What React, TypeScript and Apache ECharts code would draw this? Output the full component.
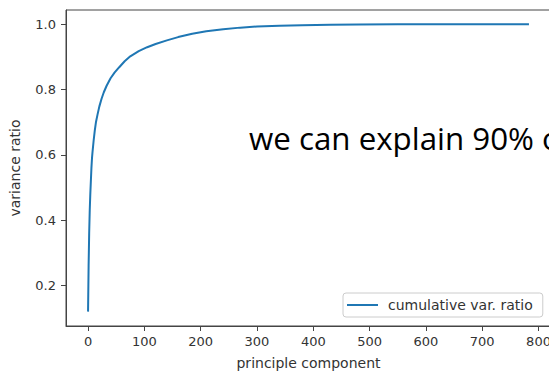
import React, { useEffect, useRef } from "react";
import * as echarts from "echarts";

// cumulative explained variance per principal component
const components = [0, 1, 2, 3, 4, 5, 6, 7, 8, 10, 12, 14, 17, 20, 24, 28, 33, 40, 47, 55, 65, 75, 90, 105, 120, 140, 160, 185, 210, 240, 270, 300, 340, 380, 430, 480, 550, 650, 783];
const cumulativeRatio = [0.12, 0.26, 0.36, 0.43, 0.48, 0.52, 0.56, 0.59, 0.61, 0.645, 0.675, 0.7, 0.725, 0.748, 0.772, 0.792, 0.812, 0.835, 0.852, 0.868, 0.887, 0.902, 0.918, 0.93, 0.94, 0.951, 0.961, 0.971, 0.979, 0.985, 0.99, 0.9935, 0.9958, 0.9975, 0.9988, 0.9996, 1.0, 1.0, 1.0];

const xTicks = [0, 100, 200, 300, 400, 500, 600, 700, 800];
const yTicks = [0.2, 0.4, 0.6, 0.8, 1.0];

const seriesName = "cumulative var. ratio";
const note = "we can explain 90% of";

export default function App() {
  const ref = useRef<HTMLDivElement>(null);

  useEffect(() => {
    if (!ref.current) return;
    const chart = echarts.init(ref.current, null, { renderer: "svg" });
    const font = "DejaVu Sans";
    const axisColor = "#333";
    const spineColor = "#444";

    // 5% padding on both ends of each axis
    const xMin = components[0];
    const xMax = components[components.length - 1];
    const xPad = (xMax - xMin) * 0.05;
    const yMin = Math.min(...cumulativeRatio);
    const yMax = Math.max(...cumulativeRatio);
    const yPad = (yMax - yMin) * 0.05;

    chart.setOption({
      animation: false,
      backgroundColor: "#fff",
      grid: {
        left: 66,
        top: 10,
        width: 485,
        bottom: 45,
        outerBoundsMode: "none",
        containLabel: false,
        show: true,
        borderColor: spineColor,
        borderWidth: 1,
        backgroundColor: "transparent",
      },
      xAxis: {
        type: "value",
        min: xMin - xPad,
        max: xMax + xPad,
        name: "principle component",
        nameLocation: "middle",
        nameGap: 30,
        nameTextStyle: { fontFamily: font, fontSize: 14, color: axisColor },
        splitLine: { show: false },
        axisLine: { show: true, onZero: false, lineStyle: { color: spineColor, width: 1 } },
        axisTick: { show: true, length: 5, customValues: xTicks, lineStyle: { color: spineColor } },
        axisLabel: {
          customValues: xTicks,
          margin: 9,
          fontFamily: font,
          fontSize: 13,
          color: axisColor,
        },
      },
      yAxis: {
        type: "value",
        min: yMin - yPad,
        max: yMax + yPad,
        name: "variance ratio",
        nameLocation: "middle",
        nameGap: 44,
        nameRotate: 90,
        nameTextStyle: { fontFamily: font, fontSize: 14, color: axisColor },
        splitLine: { show: false },
        axisLine: { show: true, onZero: false, lineStyle: { color: spineColor, width: 1 } },
        axisTick: { show: true, length: 5, customValues: yTicks, lineStyle: { color: spineColor } },
        axisLabel: {
          customValues: yTicks,
          margin: 10,
          fontFamily: font,
          fontSize: 13,
          color: axisColor,
          formatter: (v: number) => v.toFixed(1),
        },
      },
      legend: {
        show: true,
        left: 343,
        top: 293,
        orient: "horizontal",
        padding: [5, 10, 5, 4],
        borderColor: "#ccc",
        borderWidth: 1,
        borderRadius: 3,
        backgroundColor: "rgba(255,255,255,0.8)",
        itemWidth: 31,
        itemHeight: 10,
        textStyle: { fontFamily: font, fontSize: 14, color: axisColor, padding: [0, 0, 0, 5] },
        data: [{ name: seriesName, icon: "path://M0,0L31,0L31,2L0,2Z" }],
      },
      graphic: [
        {
          type: "text",
          left: 249,
          top: 122,
          style: {
            text: note,
            fontFamily: "Open Sans",
            fontSize: 31.3,
            fill: "#000",
          },
        },
      ],
      series: [
        {
          name: seriesName,
          type: "line",
          data: components.map((c, i) => [c, cumulativeRatio[i]]),
          symbol: "none",
          smooth: false,
          lineStyle: { color: "#1f77b4", width: 2 },
          itemStyle: { color: "#1f77b4" },
        },
      ],
    });

    return () => chart.dispose();
  }, []);

  return (
    <div
      ref={ref}
      style={{ position: "fixed", left: 0, top: 0, width: 549, height: 371 }}
    />
  );
}
